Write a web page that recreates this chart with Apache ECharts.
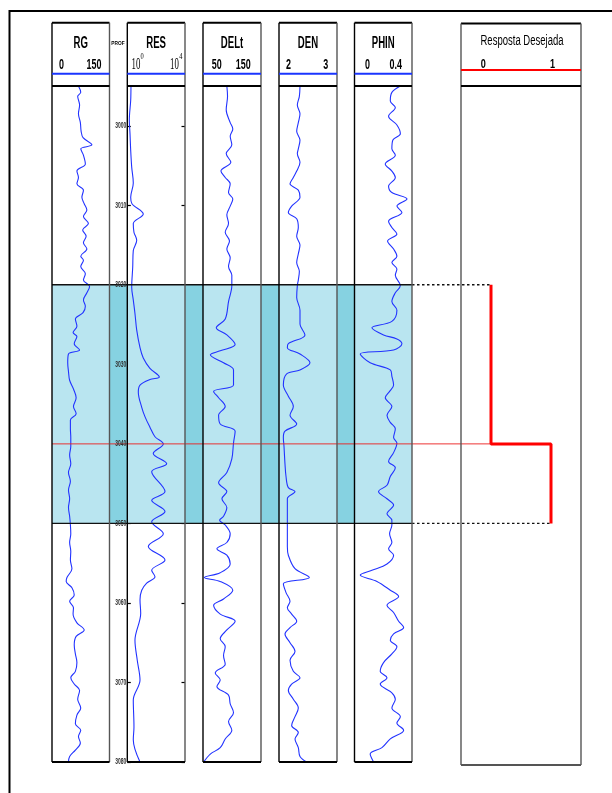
<!DOCTYPE html>
<html><head><meta charset="utf-8">
<script src="https://cdn.jsdelivr.net/npm/echarts@6/dist/echarts.min.js"></script>
<style>html,body{margin:0;padding:0;background:#fff}#c{width:612px;height:793px}</style>
</head><body><div id="c"></div>
<script>
// ---------------- DATA ----------------
const depthRange = [2995, 3080];
const depthTicks = [3000, 3010, 3020, 3030, 3040, 3050, 3060, 3070, 3080];
const zoneTopBottom = [3020, 3050];
const zoneMark = 3040;

const rgScale = [0, 150];
const resScale = [1, 10000];
const deltScale = [50, 150];
const denScale = [2, 3];
const phinScale = [0, 0.4];
const respScale = [-0.5, 1.5];

const rgDepth = [2995.0,2995.8,2996.3,2997.4,2998.5,2999.6,3000.7,3001.5,3002.4,3002.9,3003.7,3004.8,3005.7,3006.5,3007.3,3008.1,3009.0,3009.8,3010.6,3011.4,3012.3,3013.1,3013.9,3014.7,3015.5,3016.4,3016.9,3017.7,3018.6,3019.4,
3020.2,3021.0,3021.9,3022.7,3023.5,3024.3,3025.2,3026.0,3026.5,3027.4,3028.2,3028.7,3029.8,3030.9,3032.0,3033.1,3034.2,3035.3,3036.2,3037.0,3038.1,3039.2,3040.3,3041.4,3042.5,3043.6,3044.7,3045.8,3046.9,3048.0,3049.1,3050.2,
3051.3,3052.4,3053.5,3054.6,3055.7,3056.8,3057.3,3058.1,3059.0,3059.8,3060.6,3061.4,3062.5,3063.4,3064.2,3065.3,3066.4,3067.5,3068.6,3069.4,3070.2,3071.0,3072.1,3073.2,3074.1,3075.2,3076.0,3076.8,3077.6,3078.5,3079.3,3080.0];
const rgValue = [69,75,67,72,69,74,76,81,104,75,82,87,65,69,65,82,78,84,91,82,95,80,89,82,91,75,82,75,87,82,
98,91,82,87,81,61,65,55,65,58,72,43,41,43,46,56,63,56,63,48,48,49,49,46,49,43,48,43,46,43,46,48,
49,46,49,48,52,39,37,52,58,46,56,55,65,84,63,58,61,65,61,49,58,72,67,75,65,61,75,69,74,61,46,43];

const resDepth = [2995.0,2996.8,2999.3,3001.0,3003.1,3005.2,3007.2,3009.0,3009.8,3011.1,3012.3,3013.4,3014.4,3015.7,3017.8,3020.3,3021.9,3023.6,3025.7,3027.9,3029.2,3030.5,3031.6,3031.9,3032.6,3033.5,3035.4,3036.6,3037.9,3039.1,3040.0,3041.2,3042.5,3043.5,3046.0,3047.1,3048.5,3049.8,3051.3,3052.9,3054.6,3055.9,3056.7,3057.5,3058.4,3059.6,3061.3,3064.7,3067.2,3069.7,3072.2,3075.6,3077.2,3080.0];
const resValue = [1.8,1.72,1.38,1.54,1.72,2.02,2.6,1.72,2.1,12.8,2.6,2.9,4.5,2.6,2.37,2.02,2.6,3.4,4.5,7.6,12.8,37,166,37,7.6,5.8,10,17,37,83,314,63,540,49,410,49,410,49,314,28.6,410,49,83,22,10,7.6,8.5,3.4,4.9,7.6,2.6,2.9,2.6,7.6];

const deltDepth = [2995.0,2996.3,2998.0,2999.6,3000.4,3001.3,3002.4,3003.5,3004.6,3005.7,3006.5,3007.3,3008.4,3009.2,3010.1,3011.2,3012.3,3013.4,3014.5,3015.5,3016.6,3017.7,3018.8,3020.1,
3022.1,3024.3,3025.4,3026.3,3027.5,3028.3,3028.8,3029.8,3030.7,3032.6,3033.4,3034.2,3035.3,3036.4,3037.5,3038.4,3039.9,3041.9,3043.6,3044.9,3046.0,3046.9,3048.0,3049.1,3049.6,3050.2,
3051.3,3052.4,3053.2,3054.0,3055.1,3056.2,3056.8,3057.3,3058.4,3059.5,3060.3,3061.4,3062.3,3063.4,3064.5,3065.5,3066.6,3067.7,3068.8,3069.7,3070.5,3071.6,3072.7,3073.8,3074.9,3076.0,3077.1,3078.2,3079.0,3080.0];
const deltValue = [91.1,92.3,90.0,96.9,101.4,96.9,99.7,90.0,98.0,80.9,88.3,96.9,94.0,101.4,96.9,91.1,94.0,88.3,95.7,91.1,96.9,94.0,99.7,99.7,
94.0,88.3,72.9,91.1,105.4,79.7,62.6,85.4,102.6,102.6,68.3,76.9,88.3,76.9,79.7,105.4,102.6,99.7,91.1,76.9,91.1,82.6,91.1,85.4,78.6,88.3,
96.9,91.1,74.0,91.1,96.9,79.7,52.3,79.7,101.4,85.4,68.3,79.7,105.4,91.1,79.7,88.3,85.4,88.3,71.1,79.7,74.0,94.0,96.9,102.6,94.0,99.7,88.3,79.7,62.6,51.1];

const denDepth = [2995.0,2996.3,2997.4,2998.5,2999.6,3000.7,3001.8,3002.9,3003.5,3004.6,3005.7,3006.5,3007.3,3008.1,3009.0,3010.1,3010.9,3011.7,3012.8,3013.9,3015.0,3016.1,3017.2,3018.3,3019.4,3020.1,
3021.6,3023.2,3024.9,3026.3,3027.4,3027.9,3028.7,3029.8,3030.7,3031.2,3032.6,3034.0,3035.3,3036.4,3037.5,3038.4,3039.2,3040.3,3042.5,3044.1,3045.5,3046.0,3046.9,3048.5,3050.2,
3051.8,3052.9,3054.0,3055.7,3056.8,3057.6,3058.7,3059.8,3060.6,3061.4,3062.3,3063.1,3063.9,3065.0,3066.1,3067.2,3068.6,3069.4,3070.2,3071.0,3072.1,3073.2,3074.3,3075.4,3076.3,3077.1,3078.2,3079.3,3080.0];
const denValue = [2.362,2.351,2.316,2.362,2.333,2.305,2.362,2.333,2.316,2.362,2.305,2.247,2.190,2.333,2.362,2.218,2.161,2.305,2.333,2.305,2.362,2.333,2.305,2.351,2.333,2.316,
2.305,2.362,2.362,2.448,2.161,2.144,2.362,2.534,2.362,2.132,2.075,2.161,2.247,2.190,2.305,2.103,2.075,2.086,2.103,2.121,2.161,2.276,2.144,2.144,2.144,
2.144,2.144,2.161,2.276,2.523,2.075,2.121,2.190,2.144,2.218,2.305,2.190,2.103,2.190,2.276,2.190,2.247,2.362,2.218,2.161,2.247,2.333,2.276,2.218,2.333,2.276,2.333,2.362,2.477];

const phinDepth = [2995.0,2995.8,2996.9,2997.7,2998.8,2999.9,3001.0,3001.8,3002.9,3003.7,3004.8,3005.7,3006.5,3007.6,3008.4,3009.2,3010.1,3010.9,3012.0,3012.8,3013.6,3014.5,3015.5,3016.4,3017.2,3018.0,3018.8,3020.1,
3021.0,3022.1,3023.2,3024.6,3025.4,3026.3,3026.8,3027.4,3028.2,3028.7,3029.8,3030.7,3031.5,3032.6,3033.4,3034.2,3035.3,3036.4,3037.3,3038.1,3039.2,3039.9,3041.1,3042.2,3043.0,3044.1,3045.2,3046.0,3046.9,3047.7,3048.8,3049.6,3050.2,
3051.3,3052.4,3053.2,3054.0,3055.1,3055.9,3056.5,3057.3,3058.4,3059.2,3060.3,3061.2,3062.3,3063.1,3063.9,3064.7,3065.5,3066.4,3067.5,3068.6,3069.4,3070.2,3071.3,3072.1,3073.2,3074.3,3075.1,3076.0,3077.1,3078.2,3079.0,3080.0];
const phinValue = [0.319,0.260,0.249,0.284,0.237,0.295,0.319,0.267,0.260,0.284,0.214,0.260,0.284,0.237,0.260,0.365,0.295,0.330,0.237,0.260,0.295,0.230,0.272,0.295,0.260,0.295,0.284,0.319,
0.284,0.260,0.295,0.260,0.121,0.202,0.295,0.330,0.272,0.040,0.109,0.249,0.260,0.272,0.244,0.214,0.260,0.226,0.249,0.284,0.272,0.295,0.272,0.237,0.284,0.249,0.226,0.167,0.226,0.272,0.226,0.260,0.260,
0.244,0.260,0.237,0.272,0.226,0.121,0.040,0.156,0.249,0.307,0.226,0.272,0.307,0.342,0.272,0.249,0.295,0.260,0.202,0.179,0.226,0.179,0.260,0.284,0.260,0.319,0.295,0.342,0.249,0.191,0.109,0.133];

const respDepth = [3020, 3040, 3040, 3050];
const respValue = [0, 0, 1, 1];

const trackTitles = ['RG', 'RES', 'DELt', 'DEN', 'PHIN', 'Resposta Desejada'];
const scaleLeftLabels = ['0', '10', '50', '2', '0', '0'];
const scaleRightLabels = ['150', '10', '150', '3', '0.4', '1'];
const resExponents = ['0', '4'];

// ---------------- LAYOUT ----------------
const TOP = 86, H = 676, HEAD_TOP = 22.7;
const LEFTS = [52, 127.3, 203, 279, 354.5, 461];
const WIDTHS = [57.5, 57.7, 58, 58, 57.5, 120];
const scales = [rgScale, resScale, deltScale, denScale, phinScale, respScale];
const curves = [[rgDepth, rgValue], [resDepth, resValue], [deltDepth, deltValue], [denDepth, denValue], [phinDepth, phinValue], [respDepth, respValue]];
const BLUE = '#2233ff';

const chart = echarts.init(document.getElementById('c'), null, {renderer: 'canvas', width: 612, height: 793});

const grids = LEFTS.map((l, i) => ({left: l, top: TOP, width: WIDTHS[i], height: H, show: false}));
const xAxes = scales.map((s, i) => ({
  gridIndex: i, type: i === 1 ? 'log' : 'value', logBase: 10, min: s[0], max: s[1], show: false
}));
const yBase = i => ({gridIndex: i, type: 'value', min: depthRange[0], max: depthRange[1], inverse: true, show: false});
const yAxes = LEFTS.map((l, i) => yBase(i));
const tickAxis = pos => Object.assign(yBase(1), {
  show: true, position: pos,
  axisLine: {show: false}, splitLine: {show: false},
  axisTick: {show: true, inside: true, length: 3.5, customValues: depthTicks, lineStyle: {color: '#000', width: 1.2}},
  axisLabel: {show: false}
});
yAxes[1] = tickAxis('left');
yAxes.push(tickAxis('right'));

const series = curves.map((c, i) => ({
  type: 'line', xAxisIndex: i, yAxisIndex: i, symbol: 'none', z: 5,
  smooth: i === 5 ? false : 0.35,
  data: c[0].map((d, k) => [c[1][k], d]),
  lineStyle: i === 5 ? {color: '#ff0000', width: 3} : {color: BLUE, width: 1.1},
  animation: false
}));

chart.setOption({animation: false, grid: grids, xAxis: xAxes, yAxis: yAxes, series: series});

// ---------------- DECORATION (positions from scales) ----------------
const yPix = d => chart.convertToPixel({yAxisIndex: 0}, d);
const xResp = v => chart.convertToPixel({xAxisIndex: 5}, v);
const yTop = yPix(zoneTopBottom[0]), yBot = yPix(zoneTopBottom[1]), yMark = yPix(zoneMark);
const bandL = LEFTS[0], bandR = LEFTS[4] + WIDTHS[4];
const x0 = xResp(respValue[0]), x1 = xResp(respValue[3]);
const yBottom = yPix(depthRange[1]);

const g = [];
const line = (x1_, y1_, x2_, y2_, stroke, w, z, dash) => g.push({type: 'line', z: z, shape: {x1: x1_, y1: y1_, x2: x2_, y2: y2_}, style: {stroke: stroke, lineWidth: w, lineDash: dash || null}});
const txt = (x, y, text, font, align, sx, fill) => g.push({type: 'text', x: x, y: y, scaleX: sx, z: 20, style: {text: text, font: font, fill: fill || '#000', align: align, textAlign: align, verticalAlign: 'middle', textVerticalAlign: 'middle'}});

// band
g.push({type: 'rect', z: 0, shape: {x: bandL, y: yTop, width: bandR - bandL, height: yBot - yTop}, style: {fill: '#86d2e1'}});
for (let i = 0; i < 5; i++) g.push({type: 'rect', z: 1, shape: {x: LEFTS[i], y: yTop, width: WIDTHS[i], height: yBot - yTop}, style: {fill: '#b9e5f0'}});
line(bandL, yTop, bandR, yTop, '#111', 1.4, 12);
line(bandL, yBot, bandR, yBot, '#111', 1.4, 12);
line(bandR, yTop, x0, yTop, '#111', 1.4, 12, [2.5, 2.5]);
line(bandR, yBot, x1, yBot, '#111', 1.4, 12, [2.5, 2.5]);
line(bandL, yMark, x0, yMark, 'rgba(235,30,30,0.9)', 1, 12);

// outer frame
g.push({type: 'polyline', z: 12, shape: {points: [[9.5, 793], [9.5, 11], [612, 11]]}, style: {stroke: '#000', lineWidth: 2, fill: null}});

// track boxes
for (let i = 0; i < 6; i++) {
  const L = LEFTS[i], R = L + WIDTHS[i];
  const top = i === 5 ? 23.5 : HEAD_TOP;
  const bot = i === 5 ? yBottom + 3 : yBottom;
  line(L, top, R, top, '#000', 2, 12);
  line(L, top, L, bot, i === 5 ? '#555' : '#000', 1.4, 12);
  line(R, top, R, bot, '#555', 1.4, 12);
  line(L, TOP, R, TOP, '#000', 1.8, 12);
  line(L, bot, R, bot, i === 5 ? '#555' : '#000', 2, 12);
  if (i < 5) line(L, 73.7, R, 73.7, '#1a35ff', 2, 12);
  else line(L, 70, R, 70, '#ff0000', 2, 12);
}

// depth labels (positions from the depth axis)
depthTicks.forEach(d => {
  txt(126.3, yPix(d), String(d), 'bold 9px "Liberation Sans", Arial, sans-serif', 'right', 0.55, '#333');
});

// header texts
const TF = 'bold 16px "Liberation Sans", Arial, sans-serif';
const SF = 'bold 14px "Liberation Sans", Arial, sans-serif';
for (let i = 0; i < 5; i++) txt(LEFTS[i] + WIDTHS[i] / 2, 44, trackTitles[i], TF, 'center', 0.6);
txt(522, 41, trackTitles[5], '14px "Liberation Sans", Arial, sans-serif', 'center', 0.68);
txt(118, 43.7, 'PROF', 'bold 6px "Liberation Sans", Arial, sans-serif', 'center', 0.8);
// scale labels
const leftOff = [7, 0, 8.7, 7, 10.5, 19.7];
const rightOff = [8, 0, 10.3, 8.7, 10, 26];
[0, 2, 3, 4].forEach(i => {
  txt(LEFTS[i] + leftOff[i], 65, scaleLeftLabels[i], SF, 'left', 0.64);
  txt(LEFTS[i] + WIDTHS[i] - rightOff[i], 65, scaleRightLabels[i], SF, 'right', 0.64);
});
txt(LEFTS[5] + leftOff[5], 64, scaleLeftLabels[5], 'bold 13px "Liberation Sans", Arial, sans-serif', 'left', 0.7);
txt(LEFTS[5] + WIDTHS[5] - rightOff[5], 64, scaleRightLabels[5], 'bold 13px "Liberation Sans", Arial, sans-serif', 'right', 0.7);
// RES log labels
const RSF = '16px "Liberation Serif", "Times New Roman", serif';
txt(131.5, 64.5, scaleLeftLabels[1], RSF, 'left', 0.55);
txt(140.6, 57, resExponents[0], '8px "Liberation Serif", serif', 'left', 0.8);
txt(170, 64.5, scaleRightLabels[1], RSF, 'left', 0.55);
txt(179.2, 57, resExponents[1], '8px "Liberation Serif", serif', 'left', 0.8);

chart.setOption({graphic: {elements: g}});
</script>
</body></html>
